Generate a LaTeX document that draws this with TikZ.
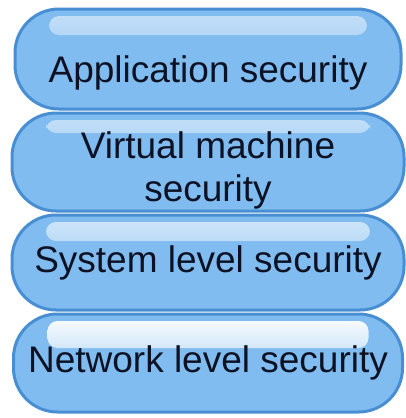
\documentclass[tikz,border=0pt]{standalone}
\usepackage{fontspec}
\setmainfont{Liberation Sans}
\usetikzlibrary{positioning,calc}
\definecolor{layerfill}{RGB}{128,188,240}
\definecolor{layeredge}{RGB}{72,142,210}
\definecolor{layertext}{RGB}{12,18,36}

\begin{document}
\begin{tikzpicture}[
    node distance=4pt,
    outer sep=0pt,
    glow depth/.store in=\glowdepth,
    glow depth=26pt,
    layer/.style={draw=layeredge, line width=3pt, fill=layerfill, rounded corners=44pt,
        minimum width=386pt, minimum height=98pt, align=center, text=layertext,
        font=\fontsize{37}{43}\selectfont,
        path picture={
            \shade[top color=white!#1!layerfill, bottom color=layerfill, rounded corners=10pt]
                ($(path picture bounding box.north west)+(34pt,-7pt)$) rectangle
                ($(path picture bounding box.north east)+(-34pt,-\glowdepth)$);
        }},
    layer/.default=55
]
    \useasboundingbox (0,0) rectangle (406pt,-418pt);
    \node [layer, minimum height=100pt, text height=47pt, text depth=0pt] (app) at (208pt,-59pt) {Application security};
    \node [layer, minimum width=392pt, glow depth=20pt, text height=78pt, text depth=0pt, below=of app] (vm) {Virtual machine\\security};
    \node [layer=65, minimum width=392pt, minimum height=95pt, below=of vm] (sys) {System level security};
    \node [layer=100, minimum width=389pt, glow depth=34pt, below=of sys] (net) {Network level security};
\end{tikzpicture}
\end{document}
